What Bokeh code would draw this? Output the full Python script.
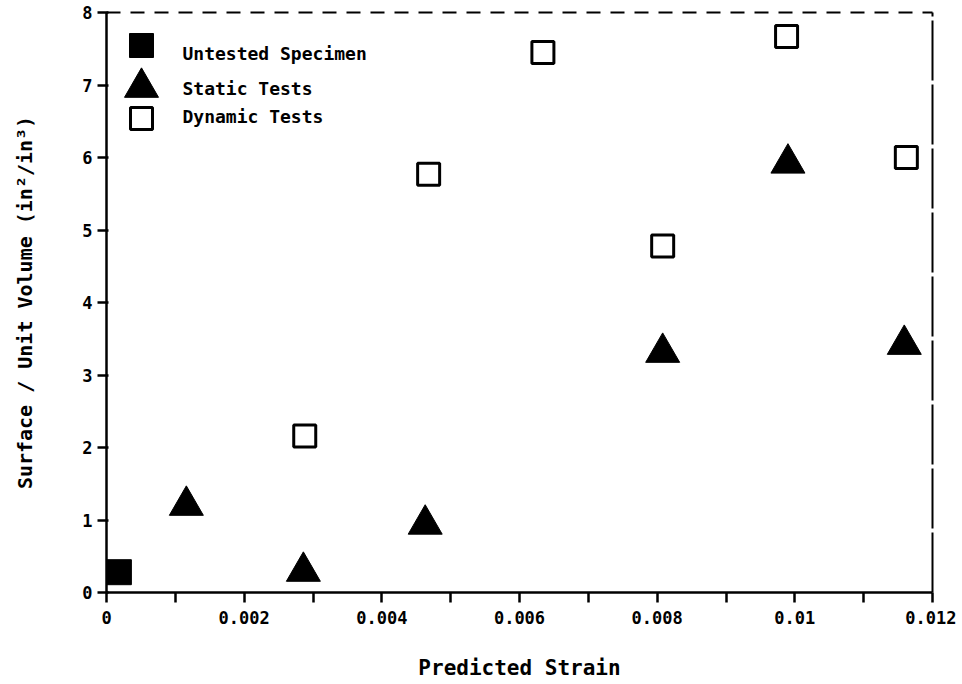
from bokeh.plotting import figure
from bokeh.models import Range1d, LinearAxis, FixedTicker
from bokeh.embed import file_html
from bokeh.resources import INLINE
from bokeh.core.properties import value

# ---- data ----
untested_x = [0.00018]
untested_y = [0.28]

static_x = [0.00116, 0.00286, 0.00463, 0.00808, 0.00990, 0.01159]
static_y = [1.20, 0.29, 0.94, 3.31, 5.92, 3.42]

dynamic_x = [0.00288, 0.00468, 0.00634, 0.00808, 0.00988, 0.01162]
dynamic_y = [2.16, 5.77, 7.45, 4.78, 7.67, 6.00]

x_ticks = [0, 0.002, 0.004, 0.006, 0.008, 0.010, 0.012]
x_tick_labels = ["0", "0.002", "0.004", "0.006", "0.008", "0.01", "0.012"]
x_minor_ticks = [0.001, 0.003, 0.005, 0.007, 0.009, 0.011]
y_ticks = [0, 1, 2, 3, 4, 5, 6, 7, 8]
y_tick_labels = ["0", "1", "2", "3", "4", "5", "6", "7", "8"]

series_names = ["Untested Specimen", "Static Tests", "Dynamic Tests"]
x_title = "Predicted Strain"
y_title = "Surface / Unit Volume (in\u00b2/in\u00b3)"

FONT = "DejaVu Sans Mono"

p = figure(width=956, height=684,
           x_range=Range1d(0, 0.012), y_range=Range1d(0, 8),
           output_backend="svg", toolbar_location=None,
           min_border_left=106, min_border_right=24,
           min_border_top=12, min_border_bottom=92,
           background_fill_color="white", border_fill_color="white")
p.outline_line_color = None
p.xgrid.visible = False
p.ygrid.visible = False

# ---- axes ----
xa = p.xaxis[0]
xa.ticker = FixedTicker(ticks=x_ticks, minor_ticks=x_minor_ticks)
xa.major_label_overrides = {t: l for t, l in zip(x_ticks, x_tick_labels)}
xa.axis_line_width = 2.5
xa.axis_line_color = "black"
xa.major_tick_line_width = 2.5
xa.major_tick_line_color = "black"
xa.major_tick_in = 0
xa.major_tick_out = 10
xa.minor_tick_line_width = 2.5
xa.minor_tick_line_color = "black"
xa.minor_tick_in = 0
xa.minor_tick_out = 10
xa.major_label_standoff = 8
xa.major_label_text_font = FONT
xa.major_label_text_font_style = "bold"
xa.major_label_text_font_size = "17px"
xa.major_label_text_color = "black"
xa.axis_label = x_title
xa.axis_label_text_font = FONT
xa.axis_label_text_font_style = "bold"
xa.axis_label_text_font_size = "21px"
xa.axis_label_text_color = "black"
xa.axis_label_standoff = 29

ya = p.yaxis[0]
ya.ticker = FixedTicker(ticks=y_ticks)
ya.major_label_overrides = {t: l for t, l in zip(y_ticks, y_tick_labels)}
ya.axis_line_width = 2.5
ya.axis_line_color = "black"
ya.major_tick_line_width = 2.5
ya.major_tick_line_color = "black"
ya.major_tick_in = 2
ya.major_tick_out = 9
ya.minor_tick_line_color = None
ya.major_label_standoff = 5
ya.major_label_text_font = FONT
ya.major_label_text_font_style = "bold"
ya.major_label_text_font_size = "17px"
ya.major_label_text_color = "black"
ya.axis_label = y_title
ya.axis_label_text_font = FONT
ya.axis_label_text_font_style = "bold"
ya.axis_label_text_font_size = "20px"
ya.axis_label_text_color = "black"
ya.axis_label_standoff = 42

# frame: broken top line and right line
top_ax = LinearAxis(ticker=FixedTicker(ticks=[]), axis_line_width=2,
                    axis_line_color="black", axis_line_dash="14 10",
                    major_tick_line_color=None, minor_tick_line_color=None,
                    major_label_text_font_size="0px")
p.add_layout(top_ax, "above")
right_ax = LinearAxis(ticker=FixedTicker(ticks=[]), axis_line_width=2,
                      axis_line_color="black", axis_line_dash="60 4",
                      major_tick_line_color=None, minor_tick_line_color=None,
                      major_label_text_font_size="0px")
p.add_layout(right_ax, "right")

# ---- data marks ----
p.scatter(untested_x, untested_y, marker="square", size=25,
          fill_color="black", line_color="black", line_width=1)
p.scatter(static_x, static_y, marker="triangle", size=34,
          fill_color="black", line_color="black", line_width=1)
p.scatter(dynamic_x, dynamic_y, marker="square", size=22,
          fill_color=None, line_color="black", line_width=3)

# ---- legend (drawn in frame-pixel units, top-left) ----
p.extra_x_ranges = {"lx": Range1d(0, 826)}
p.extra_y_ranges = {"ly": Range1d(0, 580)}
leg_mx = [35, 35, 35]
leg_my = [547, 505, 474]
leg_tx = [76, 76, 76]
leg_ty = [539, 504, 476]

p.scatter([leg_mx[0]], [leg_my[0]], marker="square", size=24,
          fill_color="black", line_color="black",
          x_range_name="lx", y_range_name="ly")
p.scatter([leg_mx[1]], [leg_my[1]], marker="triangle", size=34,
          fill_color="black", line_color="black",
          x_range_name="lx", y_range_name="ly")
p.scatter([leg_mx[2]], [leg_my[2]], marker="square", size=22,
          fill_color=None, line_color="black", line_width=3,
          x_range_name="lx", y_range_name="ly")
p.text(x=leg_tx, y=leg_ty, text=series_names,
       text_font=value(FONT), text_font_style="bold",
       text_font_size="18px", text_color="black",
       text_baseline="middle", text_align="left",
       x_range_name="lx", y_range_name="ly")

open("out.html", "w").write(file_html(p, INLINE))
